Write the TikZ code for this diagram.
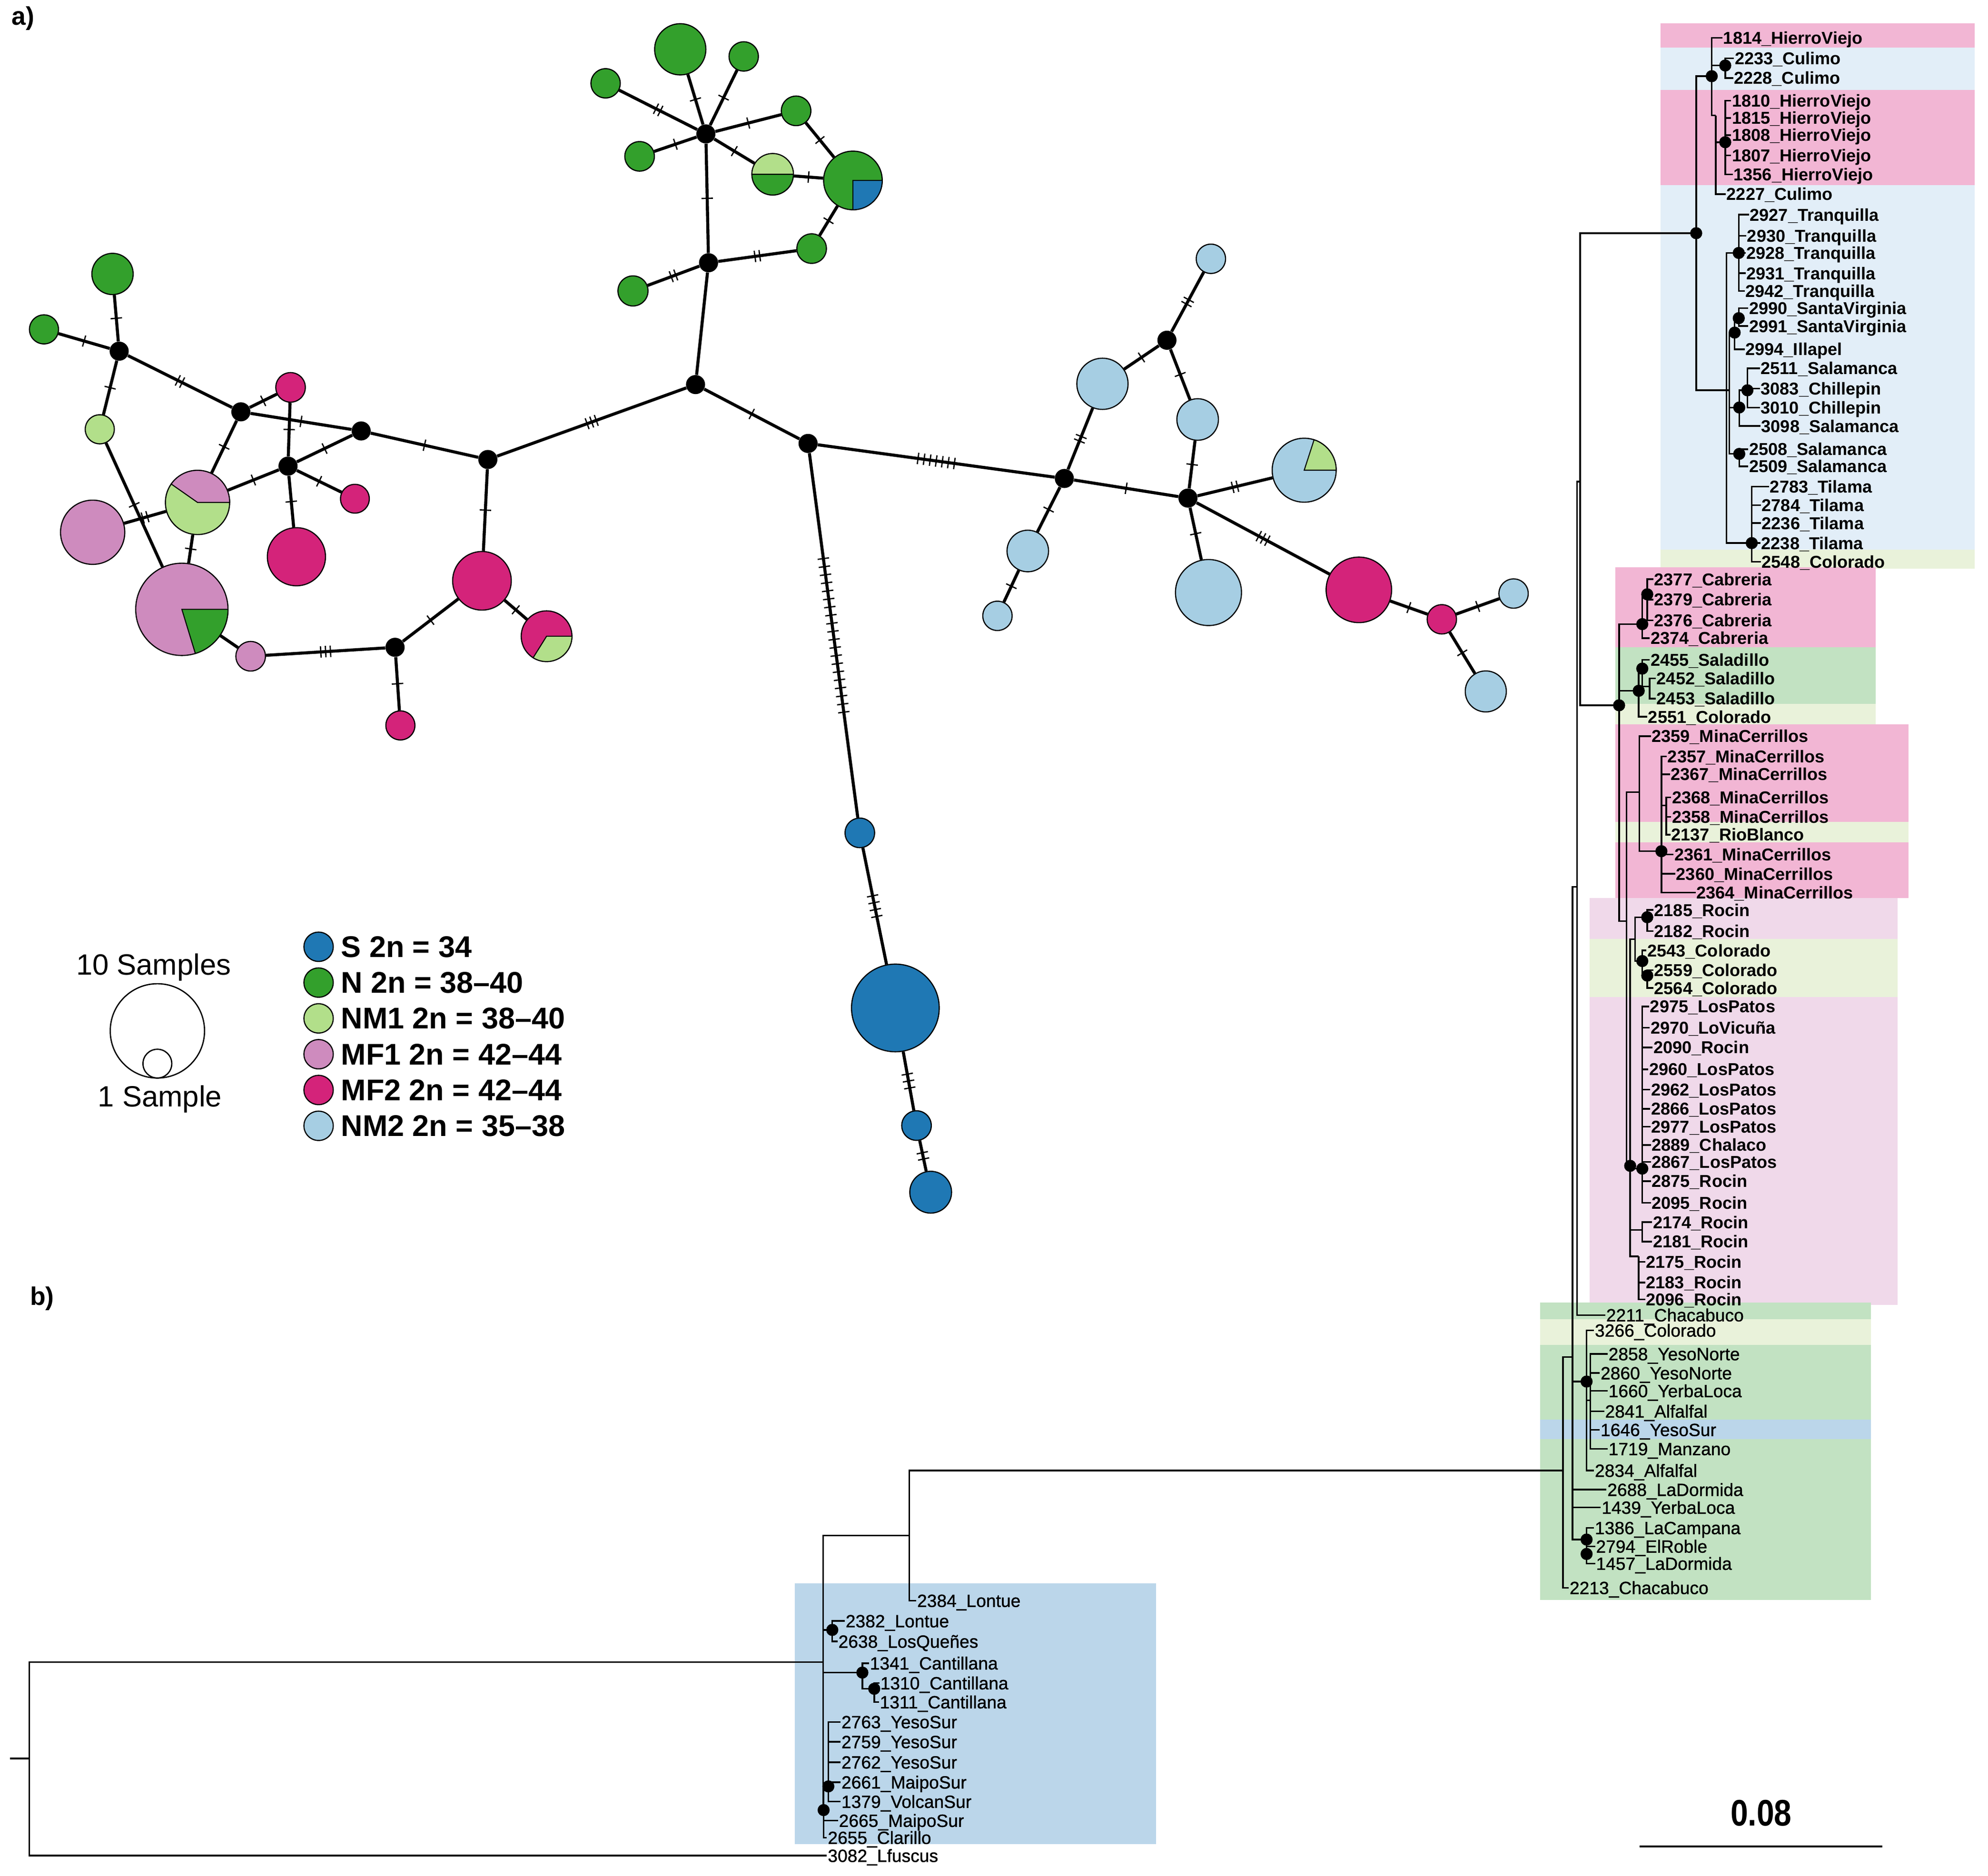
\documentclass[tikz,border=0pt]{standalone}
\usepackage{fontspec}
\setmainfont{Liberation Sans}
\newfontfamily\medfont[FakeBold=1]{Liberation Sans}
\newfontfamily\barfont[FakeStretch=0.85]{Liberation Sans}
\usetikzlibrary{positioning,decorations.markings}

% karyotype groups
\definecolor{cS}{HTML}{1F78B4}
\definecolor{cN}{HTML}{33A02C}
\definecolor{cNMa}{HTML}{B2DF8A}
\definecolor{cMFa}{HTML}{CE8BBE}
\definecolor{cMFb}{HTML}{D4237A}
\definecolor{cNMb}{HTML}{A6CEE3}
% tree shading
\definecolor{bgMFb}{HTML}{F2B6D4}
\definecolor{bgNMb}{HTML}{E2EEF8}
\definecolor{bgNMa}{HTML}{E9F2DA}
\definecolor{bgN}{HTML}{C2E2C2}
\definecolor{bgMFa}{HTML}{F0D9EA}
\definecolor{bgS}{HTML}{BBD6EA}

\newcommand\kids[2]{\foreach \kid in {#2}{\draw[br] (#1) |- (\kid);}}
\newcommand\hapslice[5]{\filldraw[fill=#5, draw=black, line width=0.8pt] (#1.center) -- ++(#3:#2pt) arc[start angle=#3, end angle=#4, radius=#2pt] -- cycle;}

\begin{document}
\begin{tikzpicture}[x=1pt, y=-1pt,
  hap/.style={circle, draw=black, line width=0.9pt, fill=#1, inner sep=0pt},
  jn/.style={circle, fill=black, minimum size=15pt, inner sep=0pt},
  net/.style={every edge/.style={draw, line width=2.4pt}},
  tkline/.style={line width=1pt},
  tks/.style 2 args={postaction={decorate, decoration={markings, mark=at position 0.5 with {\foreach \k in {1,...,#1}{\draw[tkline] ({(\k-(#1+1)/2)*#2},-4.5pt) -- ++(0pt,9pt);}}}}},
  tk/.style={tks={#1}{3.8pt}},
  br/.style={line width=1.3pt},
  bs/.style={circle, fill=black, minimum size=9.5pt, inner sep=0pt},
  lb/.style={anchor=west, inner sep=0.5pt, text height=9.7pt, text depth=0pt, font=\bfseries\fontsize{13.5}{14}\selectfont},
  lr/.style={anchor=west, inner sep=0.5pt, text height=9.95pt, text depth=0pt, font=\medfont\fontsize{13.9}{14}\selectfont},
  key/.style={anchor=west, inner sep=0pt, font=\bfseries\fontsize{23.5}{24}\selectfont}]
\useasboundingbox (0,0) rectangle (1560,1472);

% shading behind the tree
\fill[bgMFb] (1303.2,18.4) rectangle (1549.5,37.4);
\fill[bgNMb] (1303.2,37.4) rectangle (1549.5,70.5);
\fill[bgMFb] (1303.2,70.5) rectangle (1549.5,145.3);
\fill[bgNMb] (1303.2,145.3) rectangle (1549.5,431.5);
\fill[bgNMa] (1303.2,431.5) rectangle (1549.5,446.4);
\fill[bgMFb] (1267.7,445.1) rectangle (1471.7,508);
\fill[bgN] (1267.7,508) rectangle (1471.7,552.3);
\fill[bgNMa] (1267.7,552.3) rectangle (1471.7,568.3);
\fill[bgMFb] (1267.7,568.3) rectangle (1497.5,645.1);
\fill[bgNMa] (1267.7,645.1) rectangle (1497.5,661);
\fill[bgMFb] (1267.7,661) rectangle (1497.5,704.6);
\fill[bgMFa] (1247.5,704.6) rectangle (1488.9,736.8);
\fill[bgNMa] (1247.5,736.8) rectangle (1488.9,782.3);
\fill[bgMFa] (1247.5,782.3) rectangle (1488.9,1024);
\fill[bgN] (1208.6,1022) rectangle (1468,1255.6);
\fill[bgNMa] (1208.6,1035.2) rectangle (1468,1055.4);
\fill[bgS] (1208.6,1114.2) rectangle (1468,1129.2);
\fill[bgS] (623.8,1242.7) rectangle (907.2,1447.3);

% a) haplotype network
\node[font=\bfseries\fontsize{20}{20}\selectfont] (pa) at (18,14.5) {a)};
\node[hap=cN, minimum size=32.4pt] (g1) at (88.3,215) {};
\node[hap=cN, minimum size=22.8pt] (g2) at (34.5,258.5) {};
\node[jn] (j1) at (93.5,275.6) {};
\node[hap=cNMa, minimum size=22.8pt] (m1) at (78.3,336.9) {};
\node[jn] (j2) at (189,323.2) {};
\node[hap=cMFb, minimum size=23.2pt] (f1) at (228,304) {};
\node[jn] (j3) at (283.4,338.2) {};
\node[jn] (j4) at (226,365.8) {};
\node[hap=cMFb, minimum size=22.6pt] (f2) at (278.5,391.4) {};
\node[hap=cMFb, minimum size=45.6pt] (f3) at (232.6,436.9) {};
\node[hap=cNMa, minimum size=50.4pt] (p1) at (155,394.3) {};
\node[hap=cMFa, minimum size=50.4pt] (k1) at (72.7,417.7) {};
\node[hap=cMFa, minimum size=72.4pt] (p2) at (142.7,478.2) {};
\node[hap=cMFa, minimum size=23.2pt] (k2) at (196.7,515) {};
\node[jn] (j5) at (310,508) {};
\node[hap=cMFb, minimum size=22.8pt] (f4) at (314.2,569.3) {};
\node[jn] (j6) at (382.8,360.6) {};
\node[hap=cMFb, minimum size=46pt] (f5) at (378.2,455.8) {};
\node[hap=cMFb, minimum size=39.8pt] (p3) at (428.9,499.3) {};
\node[jn] (j7) at (545.8,301.8) {};
\node[jn] (j8) at (556,206.2) {};
\node[jn] (j9) at (553.9,105.1) {};
\node[hap=cN, minimum size=40.2pt] (g3) at (533.8,38.7) {};
\node[hap=cN, minimum size=23pt] (g4) at (583.6,44.3) {};
\node[hap=cN, minimum size=23pt] (g5) at (475.2,65.4) {};
\node[hap=cN, minimum size=23.2pt] (g6) at (624.7,87) {};
\node[hap=cN, minimum size=23.2pt] (g7) at (501.9,122.7) {};
\node[hap=cN, minimum size=32.6pt] (p4) at (606.3,136.8) {};
\node[hap=cN, minimum size=46pt] (p5) at (669.3,141.6) {};
\node[hap=cN, minimum size=23.2pt] (g8) at (636.9,195.1) {};
\node[hap=cN, minimum size=23.6pt] (g9) at (496.7,228.3) {};
\node[jn] (j10) at (634.1,348) {};
\node[hap=cS, minimum size=23.2pt] (s1) at (674.7,653.6) {};
\node[hap=cS, minimum size=68.8pt] (s2) at (702.6,791) {};
\node[hap=cS, minimum size=23.2pt] (s3) at (719.2,883.3) {};
\node[hap=cS, minimum size=32.8pt] (s4) at (730.3,935.6) {};
\node[jn] (j11) at (835.2,375.5) {};
\node[jn] (j12) at (915.7,267) {};
\node[jn] (j13) at (932.2,390.9) {};
\node[hap=cNMb, minimum size=23pt] (b1) at (950.2,203.1) {};
\node[hap=cNMb, minimum size=40.2pt] (b2) at (865.1,301.2) {};
\node[hap=cNMb, minimum size=32.6pt] (b3) at (939.8,329.2) {};
\node[hap=cNMb, minimum size=50.2pt] (p6) at (1023.4,369) {};
\node[hap=cNMb, minimum size=32.6pt] (b4) at (806.5,432.4) {};
\node[hap=cNMb, minimum size=23pt] (b5) at (782.7,483.3) {};
\node[hap=cNMb, minimum size=51.8pt] (b6) at (948.3,465) {};
\node[hap=cMFb, minimum size=51.4pt] (f6) at (1066.3,462.9) {};
\node[hap=cMFb, minimum size=23pt] (f7) at (1131.4,486) {};
\node[hap=cNMb, minimum size=23pt] (b7) at (1187.7,465.8) {};
\node[hap=cNMb, minimum size=32.2pt] (b8) at (1165.9,542.6) {};

\hapslice{p1}{25.2}{0}{145}{cMFa}
\hapslice{p2}{36.2}{-73}{0}{cN}
\hapslice{p3}{19.9}{-122}{0}{cNMa}
\hapslice{p4}{16.3}{0}{180}{cNMa}
\hapslice{p5}{23}{-90}{0}{cS}
\hapslice{p6}{25.1}{0}{72}{cNMa}

\path[net] (j1) edge[tk=1] (g1) (j1) edge[tk=1] (g2) (j1) edge[tk=1] (m1)
  (j1) edge[tk=2] (j2) (j2) edge[tk=1] (f1) (j2) edge[tk=1] (j3)
  (j2) edge[tk=1] (p1) (f1) edge[tk=1] (j4) (j4) edge[tk=1] (j3)
  (j4) edge[tk=1] (p1) (j4) edge[tk=1] (f2) (j4) edge[tk=1] (f3)
  (j3) edge[tk=1] (j6) (j6) edge[tk=1] (f5) (j6) edge[tk=3] (j7)
  (k1) edge[tk=2] (p1) (m1) edge[tk=1] (p2) (p1) edge[tk=1] (p2)
  (p2) edge (k2) (k2) edge[tk=3] (j5) (j5) edge[tk=1] (f5)
  (j5) edge[tk=1] (f4) (f5) edge[tk=1] (p3);
\path[net] (j9) edge[tk=1] (g3) (j9) edge[tk=1] (g4) (j9) edge[tk=2] (g5)
  (j9) edge[tk=1] (g6) (j9) edge[tk=1] (g7) (j9) edge[tk=1] (p4)
  (j9) edge[tk=1] (j8) (g6) edge[tk=1] (p5) (p4) edge[tk=1] (p5)
  (p5) edge[tk=1] (g8) (j8) edge[tk=2] (g8) (j8) edge[tk=2] (g9)
  (j8) edge (j7) (j7) edge[tk=1] (j10);
\path[net] (j10) edge[tks={7}{4.8pt}] (j11) (j10) edge[tks={20}{6.4pt}] (s1)
  (s1) edge[tks={4}{5.5pt}] (s2) (s2) edge[tks={3}{5.5pt}] (s3)
  (s3) edge[tks={2}{5pt}] (s4);
\path[net] (j11) edge[tk=2] (b2) (b2) edge[tk=1] (j12) (j12) edge[tk=2] (b1)
  (j12) edge[tk=1] (b3) (b3) edge[tk=1] (j13) (j11) edge[tk=1] (j13)
  (j11) edge[tk=1] (b4) (b4) edge[tk=1] (b5) (j13) edge[tk=2] (p6)
  (j13) edge[tk=1] (b6) (j13) edge[tk=3] (f6) (f6) edge[tk=1] (f7)
  (f7) edge[tk=1] (b7) (f7) edge[tk=1] (b8);

% legend
\node[font=\fontsize{23}{24}\selectfont] (leg10) at (120.5,759) {10 Samples};
\node[circle, draw, line width=1pt, minimum size=74pt, inner sep=0pt] (legbig) at (123.5,809) {};
\node[circle, draw, line width=1pt, minimum size=22.6pt, inner sep=0pt] (legsmall) at (123.5,834.7) {};
\node[font=\fontsize{23}{24}\selectfont] (leg1) at (125.5,862.5) {1 Sample};
\foreach \col/\txt [count=\i from 0] in {cS/S 2n = 34, cN/N 2n = 38--40, cNMa/NM1 2n = 38--40,
    cMFa/MF1 2n = 42--44, cMFb/MF2 2n = 42--44, cNMb/NM2 2n = 35--38}{
  \node[hap=\col, minimum size=23pt] (key\i) at (250,{743+28.1*\i}) {};
  \node[key, right=5.5pt of key\i] (keyt\i) {\txt};
}

% b) tree
\node[font=\bfseries\fontsize{20}{20}\selectfont] (pb) at (33,1019) {b)};
\foreach \n/\x/\y/\t in {1814/1351.6/29.6/HierroViejo, 2233/1360.6/45.8/Culimo, 2228/1360/61.2/Culimo,
    1810/1358.4/78.9/HierroViejo, 1815/1358.4/92.6/HierroViejo, 1808/1358.4/106/HierroViejo,
    1807/1358.4/122/HierroViejo, 1356/1359.7/136.8/HierroViejo, 2227/1354.2/152.3/Culimo,
    2927/1372.4/168.5/Tranquilla, 2930/1370.3/185/Tranquilla, 2928/1369.7/198.5/Tranquilla,
    2931/1369.7/214.4/Tranquilla, 2942/1369/228.4/Tranquilla, 2990/1371.8/241.9/SantaVirginia,
    2991/1371.8/255.9/SantaVirginia, 2994/1369/274.1/Illapel, 2511/1381/289/Salamanca,
    3083/1381/304.9/Chillepin, 3010/1381/319.8/Chillepin, 3098/1381.4/334.3/Salamanca,
    2508/1371.8/352.5/Salamanca, 2509/1371.8/366/Salamanca, 2783/1388.2/381.9/Tilama,
    2784/1381.8/396.5/Tilama, 2236/1381.8/410.5/Tilama, 2238/1381.4/426.2/Tilama,
    2548/1381.8/440.8/Colorado,
    2377/1297.4/454.6/Cabreria, 2379/1297.4/470.5/Cabreria, 2376/1297.4/486.8/Cabreria,
    2374/1294.5/500.8/Cabreria, 2455/1294.5/517.9/Saladillo, 2452/1299.3/532.3/Saladillo,
    2453/1299.3/548.2/Saladillo, 2551/1292.6/562.5/Colorado, 2359/1295.4/577.7/MinaCerrillos,
    2357/1307.9/593.6/MinaCerrillos, 2367/1310.4/607.6/MinaCerrillos, 2368/1311.3/625.8/MinaCerrillos,
    2358/1311.3/641/MinaCerrillos, 2137/1310.8/655/RioBlanco, 2361/1313.3/670.5/MinaCerrillos,
    2360/1314.6/685.7/MinaCerrillos, 2364/1330.5/700.4/MinaCerrillos, 2185/1297.4/714.1/Rocin,
    2182/1297.4/730.7/Rocin, 2543/1292/745.9/Colorado, 2559/1297.4/761.4/Colorado,
    2564/1297.4/775.4/Colorado, 2975/1294.1/789.8/LosPatos, 2970/1294.5/806.5/LoVicuña,
    2090/1296.8/822/Rocin, 2960/1293.5/839.1/LosPatos, 2962/1294.9/855/LosPatos,
    2866/1294.9/870.1/LosPatos, 2977/1295.1/884.2/LosPatos, 2889/1295.4/898.5/Chalaco,
    2867/1295.4/911.8/LosPatos, 2875/1295.4/926.9/Rocin, 2095/1295.4/944/Rocin,
    2174/1296.4/959.1/Rocin, 2181/1296.4/974.3/Rocin, 2175/1291/990.2/Rocin,
    2183/1291/1006.5/Rocin, 2096/1291/1019.8/Rocin}
  \node[lb] (l\n) at (\x,\y) {\n\_\t};
\foreach \n/\x/\y/\t in {2211/1259.7/1032/Chacabuco, 3266/1250.8/1044/Colorado, 2858/1261.5/1062.5/YesoNorte,
    2860/1255.3/1077.5/YesoNorte, 1660/1261.5/1091.5/YerbaLoca, 2841/1258.8/1107.5/Alfalfal,
    1646/1255.3/1122/YesoSur, 1719/1261.5/1137/Manzano, 2834/1250.8/1154/Alfalfal,
    2688/1260.6/1169/LaDormida, 1439/1256.1/1183/YerbaLoca, 1386/1250.8/1199/LaCampana,
    2794/1251.7/1213.5/ElRoble, 1457/1251.7/1227/LaDormida, 2213/1231/1246/Chacabuco,
    2384/719/1256.1/Lontue, 2382/662.9/1272.1/Lontue, 2638/657.2/1288.1/LosQueñes,
    1341/681.9/1305.2/Cantillana, 1310/690.1/1320.8/Cantillana, 1311/689.7/1335.7/Cantillana,
    2763/659.6/1351.3/YesoSur, 2759/659.6/1366.9/YesoSur, 2762/659.6/1382.9/YesoSur,
    2661/659.6/1398.6/MaipoSur, 1379/659.6/1413.8/VolcanSur, 2665/657.6/1428.7/MaipoSur,
    2655/648.9/1442.1/Clarillo, 3082/648.9/1456.2/Lfuscus}
  \node[lr] (l\n) at (\x,\y) {\n\_\t};

% internal nodes
\coordinate (tA) at (1331,183);
\coordinate (tB) at (1343.2,59.8);
\coordinate (tC) at (1353.8,51.4);
\coordinate (tB2) at (1346.3,90.6);
\coordinate (tD) at (1353.8,111.6);
\coordinate (tE) at (1354.8,306.3);
\coordinate (tTr) at (1364.4,198.5);
\coordinate (tF) at (1357,306.3);
\coordinate (tSV1) at (1361.2,261);
\coordinate (tSV2) at (1364.4,249.7);
\coordinate (tSC1) at (1364.8,319.8);
\coordinate (tSC2) at (1371.2,306.3);
\coordinate (tSa) at (1364.8,356.2);
\coordinate (tTi) at (1374.6,426.2);
\coordinate (tK) at (1270.5,553.5);
\coordinate (tCab1) at (1288.7,489.8);
\coordinate (tCab2) at (1292.6,466.4);
\coordinate (tSal1) at (1285.9,542.1);
\coordinate (tSal2) at (1288.7,524.7);
\coordinate (tSal3) at (1294.5,538.8);
\coordinate (tK2) at (1276.3,722.8);
\coordinate (tMC) at (1286.4,621.7);
\coordinate (tMC2) at (1303.7,668);
\coordinate (tMC3) at (1307.5,632);
\coordinate (tR) at (1279.2,914.9);
\coordinate (tRC) at (1283,737);
\coordinate (tR1) at (1292.6,719.8);
\coordinate (tCo1) at (1288.7,754.2);
\coordinate (tCo2) at (1292.6,765.6);
\coordinate (tLP) at (1288.7,917.1);
\coordinate (tR2) at (1288.7,965.2);
\coordinate (tR3) at (1285.9,986);
\coordinate (tB1) at (1240,378);
\coordinate (tBB) at (1237.5,696);
\coordinate (tM) at (1234,1065);
\coordinate (tN) at (1226.5,1154);
\coordinate (tY) at (1245,1084.2);
\coordinate (tY2) at (1248,1099);
\coordinate (tL) at (1245,1208.2);
\coordinate (tL2) at (1245,1219.5);
\coordinate (tRoot) at (8,1380);
\coordinate (tR0) at (23,1380);
\coordinate (tG) at (646,1304.4);
\coordinate (tH) at (713.5,1205);
\coordinate (tS1) at (653.1,1279.1);
\coordinate (tS2) at (676.7,1312.6);
\coordinate (tS3) at (686,1325.3);
\coordinate (tS4) at (650,1401.9);
\coordinate (tS5) at (646.3,1420.5);

% branches
\draw[br] (tRoot) -- (tR0);
\kids{tR0}{tG,l3082}
\kids{tG}{tH,tS1,tS2,tS5}
\kids{tH}{tN,l2384}
\kids{tS1}{l2382,l2638}
\kids{tS2}{l1341,tS3}
\kids{tS3}{l1310,l1311}
\kids{tS5}{tS4,l2665,l2655}
\kids{tS4}{l2763,l2759,l2762,l2661,l1379}
\kids{tN}{tM,l2213}
\kids{tM}{tBB,tY,l2688,l1439,tL}
\kids{tBB}{tB1,l2211}
\kids{tB1}{tA,tK}
\kids{tY}{l3266,tY2,l2834}
\kids{tY2}{l2858,l2860,l1660,l2841,l1646,l1719}
\kids{tL}{l1386,tL2}
\kids{tL2}{l2794,l1457}
\kids{tA}{tB,tE}
\kids{tB}{l1814,tC,tB2}
\kids{tC}{l2233,l2228}
\kids{tB2}{tD,l2227}
\kids{tD}{l1810,l1815,l1808,l1807,l1356}
\kids{tE}{tTr,tF,tTi}
\kids{tTr}{l2927,l2930,l2928,l2931,l2942}
\kids{tF}{tSV1,tSC1,tSa}
\kids{tSV1}{tSV2,l2994}
\kids{tSV2}{l2990,l2991}
\kids{tSC1}{tSC2,l3098}
\kids{tSC2}{l2511,l3083,l3010}
\kids{tSa}{l2508,l2509}
\kids{tTi}{l2783,l2784,l2236,l2238,l2548}
\kids{tK}{tCab1,tSal1,tK2}
\kids{tCab1}{tCab2,l2374}
\kids{tCab2}{l2377,l2379,l2376}
\kids{tSal1}{tSal2,l2551}
\kids{tSal2}{l2455,tSal3}
\kids{tSal3}{l2452,l2453}
\kids{tK2}{tMC,tR}
\kids{tMC}{l2359,tMC2}
\kids{tMC2}{l2357,l2367,tMC3,l2361,l2360,l2364}
\kids{tMC3}{l2368,l2358,l2137}
\kids{tR}{tRC,tLP,tR2,tR3}
\kids{tRC}{tR1,tCo1}
\kids{tR1}{l2185,l2182}
\kids{tCo1}{l2543,tCo2}
\kids{tCo2}{l2559,l2564}
\kids{tLP}{l2975,l2970,l2090,l2960,l2962,l2866,l2977,l2889,l2867,l2875,l2095}
\kids{tR2}{l2174,l2181}
\kids{tR3}{l2175,l2183,l2096}

% support dots
\foreach \n in {tA,tB,tC,tD,tTr,tSV1,tSV2,tSC1,tSC2,tSa,tTi,tK,tCab1,tCab2,tSal1,tSal2,
    tMC2,tR,tR1,tCo1,tCo2,tLP,tY,tL,tL2,tS1,tS2,tS3,tS4,tS5}
  \node[bs] at (\n) {};

% scale bar
\coordinate (sb1) at (1286.5,1449);
\coordinate (sb2) at (1477,1449);
\draw[line width=1.5pt] (sb1) -- (sb2);
\node[font=\barfont\bfseries\fontsize{29}{29}\selectfont] (sbl) at (1382,1423) {0.08};
\end{tikzpicture}
\end{document}
